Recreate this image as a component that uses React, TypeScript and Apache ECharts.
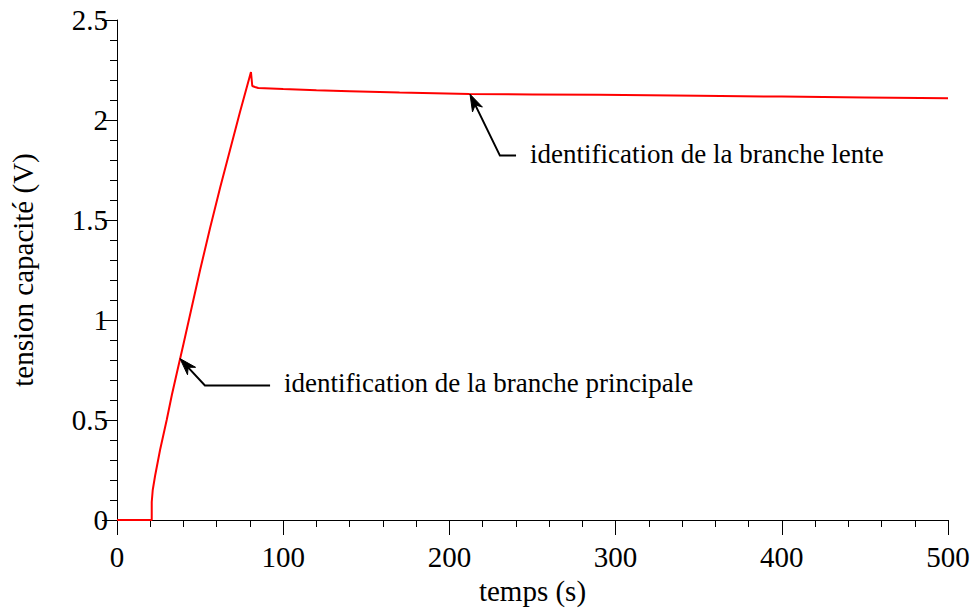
import React, { useEffect, useRef } from "react";
import * as echarts from "echarts";

const timeS: number[] = [0, 20.9, 20.9, 21.5, 22.9, 25.9, 29.9, 33, 36, 40, 45, 50, 56, 62, 68, 74, 80.6, 81.4, 83, 85, 100, 120, 140, 170, 212, 250, 290, 350, 400, 450, 500];
const voltage: number[] = [0, 0, 0.09, 0.15, 0.22, 0.35, 0.5, 0.625, 0.735, 0.88, 1.065, 1.25, 1.46, 1.66, 1.85, 2.04, 2.24, 2.17, 2.165, 2.16, 2.155, 2.149, 2.144, 2.137, 2.13, 2.128, 2.126, 2.121, 2.117, 2.113, 2.109];

const xTitle = "temps (s)";
const yTitle = "tension capacité (V)";

// annotations: [tip, elbow, end of tail] in data units, then text anchor
const note1Text = "identification de la branche principale";
const note1Pts: number[][] = [[37.9, 0.807], [52.9, 0.673], [92.1, 0.673]];
const note1Anchor: number[] = [100.5, 0.685];
const note2Text = "identification de la branche lente";
const note2Pts: number[][] = [[212.4, 2.129], [230.4, 1.822], [240.1, 1.822]];
const note2Anchor: number[] = [248.5, 1.83];

const FONT = "'Liberation Serif', 'Times New Roman', serif";

export default function App() {
  const ref = useRef<HTMLDivElement>(null);
  useEffect(() => {
    if (!ref.current) return;
    const chart = echarts.init(ref.current, undefined, { renderer: "svg" });
    const data = timeS.map((t, i) => [t, voltage[i]]);
    const axisCommon = {
      axisLine: { show: true, lineStyle: { color: "#000", width: 1 } },
      axisTick: { show: true, inside: false, length: 15, lineStyle: { color: "#000", width: 1 } },
      minorTick: { show: true, splitNumber: 5, length: 7, lineStyle: { color: "#000", width: 1 } },
      splitLine: { show: false },
      nameTextStyle: { color: "#000", fontFamily: FONT, fontSize: 29 },
    };
    chart.setOption({
      animation: false,
      backgroundColor: "#fff",
      grid: { left: 117, right: 25, top: 20, bottom: 85, containLabel: false },
      xAxis: {
        type: "value",
        min: 0,
        max: 500,
        interval: 100,
        name: xTitle,
        nameLocation: "middle",
        nameGap: 56,
        ...axisCommon,
        axisLabel: { color: "#000", fontFamily: FONT, fontSize: 29, margin: 22 },
      },
      yAxis: {
        type: "value",
        min: 0,
        max: 2.5,
        interval: 0.5,
        name: yTitle,
        nameLocation: "middle",
        nameGap: 80,
        ...axisCommon,
        axisLabel: { color: "#000", fontFamily: FONT, fontSize: 29, margin: 9 },
      },
      series: [
        {
          type: "line",
          data,
          showSymbol: false,
          lineStyle: { color: "#ff0000", width: 2 },
          itemStyle: { color: "#ff0000" },
        },
      ],
    });

    const toPx = (p: number[]) => chart.convertToPixel({ gridIndex: 0 }, p) as number[];
    const makeNote = (pts: number[][], anchor: number[], text: string) => {
      const px = pts.map(toPx);
      const tip = px[0];
      const elbow = px[1];
      const dx = tip[0] - elbow[0];
      const dy = tip[1] - elbow[1];
      const len = Math.hypot(dx, dy);
      const ux = dx / len;
      const uy = dy / len;
      const nx = -uy;
      const ny = ux;
      const L = 17;
      const W = 11;
      const head = [
        [tip[0], tip[1]],
        [tip[0] - ux * L + nx * W / 2, tip[1] - uy * L + ny * W / 2],
        [tip[0] - ux * L * 0.7, tip[1] - uy * L * 0.7],
        [tip[0] - ux * L - nx * W / 2, tip[1] - uy * L - ny * W / 2],
      ];
      const lineStart = [tip[0] - ux * L * 0.7, tip[1] - uy * L * 0.7];
      const a = toPx(anchor);
      return [
        {
          type: "polyline",
          shape: { points: [lineStart, px[1], px[2]] },
          style: { stroke: "#000", lineWidth: 2, fill: null },
          z: 100,
        },
        {
          type: "polygon",
          shape: { points: head },
          style: { fill: "#000", stroke: "#000", lineWidth: 1 },
          z: 100,
        },
        {
          type: "text",
          x: a[0],
          y: a[1],
          style: {
            text,
            fill: "#000",
            font: `27px ${FONT}`,
            verticalAlign: "middle",
            align: "left",
          },
          z: 100,
        },
      ];
    };
    chart.setOption({
      graphic: [...makeNote(note1Pts, note1Anchor, note1Text), ...makeNote(note2Pts, note2Anchor, note2Text)],
    });
    return () => chart.dispose();
  }, []);
  return (
    <div
      ref={ref}
      style={{ position: "fixed", left: 0, top: 0, width: 973, height: 610, background: "#fff" }}
    />
  );
}
